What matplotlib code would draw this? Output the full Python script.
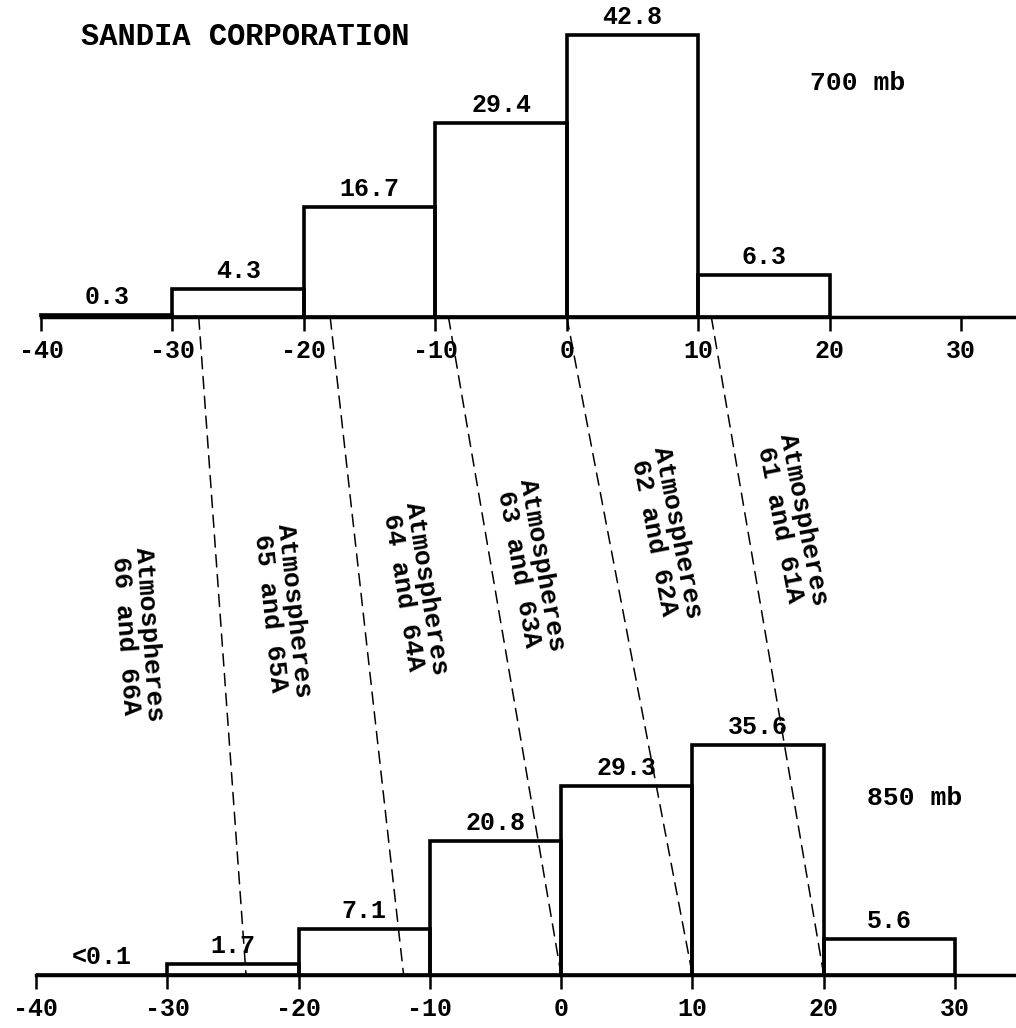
import matplotlib
matplotlib.use("Agg")
import matplotlib.pyplot as plt
from matplotlib.patches import ConnectionPatch

plt.rcParams['font.family'] = ['Liberation Mono', 'DejaVu Sans Mono']
plt.rcParams['font.weight'] = 'bold'

# percent frequency per 10-unit bin (left edges)
bins_700 = [-40, -30, -20, -10, 0, 10]
pct_700 = [0.3, 4.3, 16.7, 29.4, 42.8, 6.3]
text_700 = ["0.3", "4.3", "16.7", "29.4", "42.8", "6.3"]

bins_850 = [-40, -30, -20, -10, 0, 10, 20]
pct_850 = [0.05, 1.7, 7.1, 20.8, 29.3, 35.6, 5.6]
text_850 = ["<0.1", "1.7", "7.1", "20.8", "29.3", "35.6", "5.6"]

ticks = [-40, -30, -20, -10, 0, 10, 20, 30]
tick_text = ["-40", "-30", "-20", "-10", "0", "10", "20", "30"]

# dashed lines: where they leave the 700 mb axis and reach the 850 mb axis
shift_700 = [-28, -18, -9, 0, 11]
shift_850 = [-24, -12, 0, 10, 20]

atm_text = ["Atmospheres\n66 and 66A", "Atmospheres\n65 and 65A",
            "Atmospheres\n64 and 64A", "Atmospheres\n63 and 63A",
            "Atmospheres\n62 and 62A", "Atmospheres\n61 and 61A"]

W, H = 1016, 1028
fig = plt.figure(figsize=(W / 100, H / 100), dpi=100)

# axes placed so the baselines sit where they are on the scanned page
ax_top = fig.add_axes([0, (H - 317) / H, 1, 46 * 6.59 / H])
ax_bot = fig.add_axes([0, (H - 975) / H, 1, 40 * 6.45 / H])
ax_top.set_xlim(-43.12, 34.18)
ax_top.set_ylim(0, 46)
ax_bot.set_xlim(-42.74, 34.64)
ax_bot.set_ylim(0, 40)


def draw_hist(ax, left, vals, labels):
    ax.bar(left, vals, width=10, align='edge', fill=False,
           edgecolor='black', linewidth=2.6, zorder=3)
    for x, v, t in zip(left, vals, labels):
        ax.annotate(t, (x + 5, v), xytext=(0, 8), textcoords='offset points',
                    ha='center', va='baseline', fontsize=18)
    for s in ['top', 'left', 'right']:
        ax.spines[s].set_visible(False)
    ax.spines['bottom'].set_linewidth(2.5)
    ax.spines['bottom'].set_bounds(-40, ax.get_xlim()[1])
    ax.set_yticks([])
    ax.set_xticks(ticks, labels=tick_text)
    ax.tick_params(axis='x', direction='out', length=10, width=1.8,
                   pad=6, labelsize=18)
    ax.patch.set_alpha(0)


draw_hist(ax_top, bins_700, pct_700, text_700)
draw_hist(ax_bot, bins_850, pct_850, text_850)

ax_top.text(22.1, 35.5, "700 mb", ha='center', va='center', fontsize=19)
ax_bot.text(26.9, 27.4, "850 mb", ha='center', va='center', fontsize=19)
fig.text(245 / W, 1 - 37 / H, "SANDIA CORPORATION", ha='center',
         va='center', fontsize=22)

# shift lines between the two distributions
for xa, xb in zip(shift_700, shift_850):
    con = ConnectionPatch(xyA=(xa, 0), coordsA='data', axesA=ax_top,
                          xyB=(xb, 0), coordsB='data', axesB=ax_bot,
                          color='black', linewidth=1.1,
                          linestyle=(0, (8, 5)))
    fig.add_artist(con)

label_px = [(137, 635), (282, 612), (415, 590), (530, 567), (666, 535), (792, 522)]
label_rot = [-86, -84, -81, -80, -79, -79]
for t, (px, py), r in zip(atm_text, label_px, label_rot):
    fig.text(px / W, 1 - py / H, t, rotation=r, rotation_mode='anchor',
             ha='center', va='center', multialignment='center',
             linespacing=1.0, fontsize=19)

fig.savefig("out.png", dpi=100, facecolor='white')
